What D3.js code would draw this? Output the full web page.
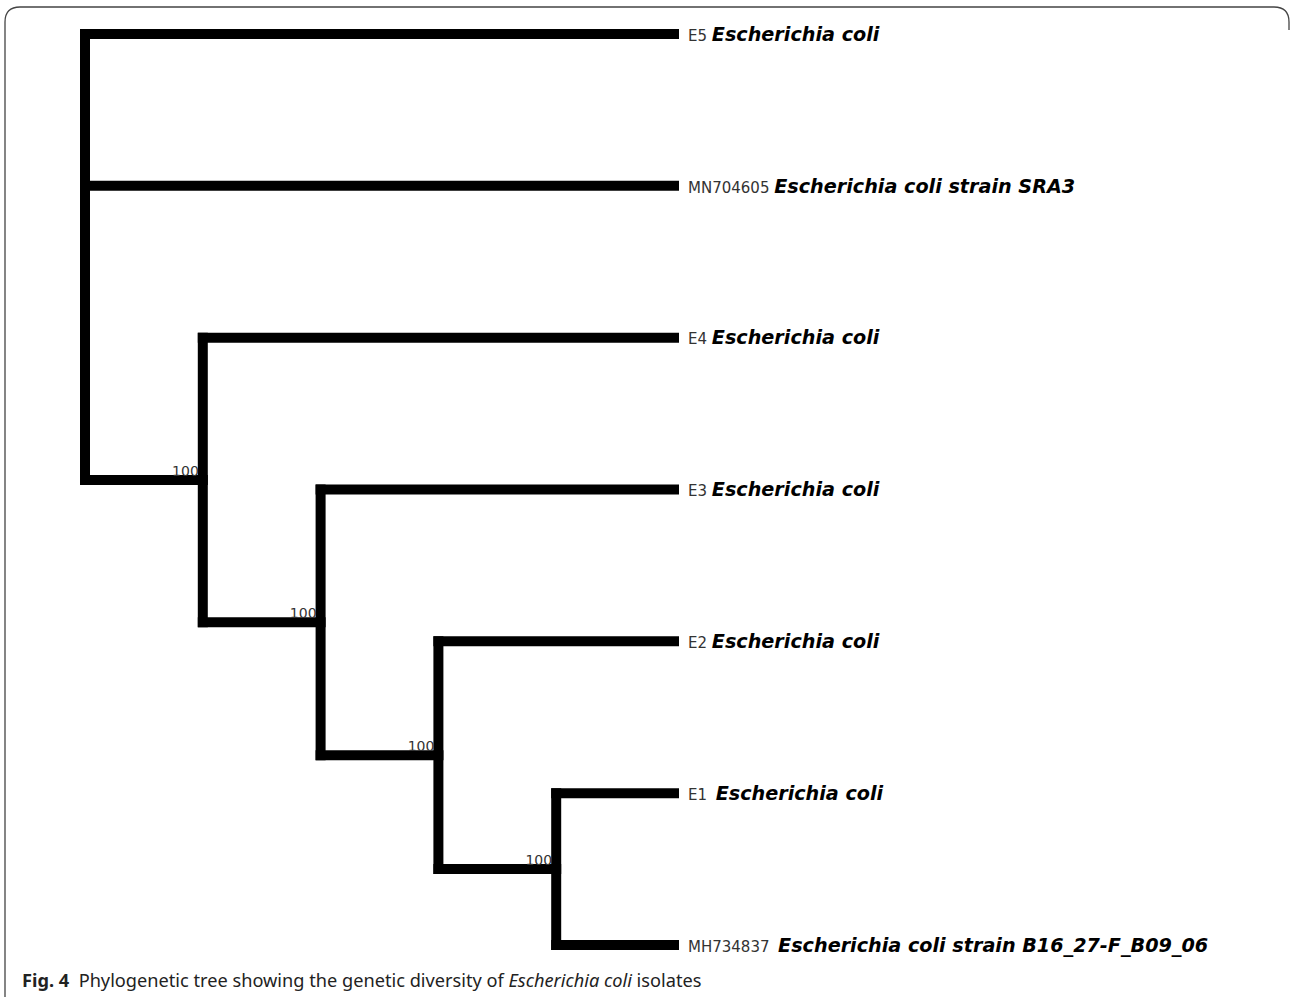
<!DOCTYPE html>
<html>
<head>
<meta charset="utf-8">
<script src="https://cdn.jsdelivr.net/npm/d3@7"></script>
<style>
  body { margin: 0; background: #fff; }
  svg { display: block; }
</style>
</head>
<body>
<div id="tree-holder"></div>
<script>
// Tree topology (parent list), support values and tip labels
let nodeIds   = ['root', 'E5', 'MN704605', 'n1', 'E4', 'n2', 'E3', 'n3', 'E2', 'n4', 'E1', 'MH734837'];
let parentIds = ['', 'root', 'root', 'root', 'n1', 'n1', 'n2', 'n2', 'n3', 'n3', 'n4', 'n4'];
let supportValues = [null, null, null, 100, null, 100, null, 100, null, 100, null, null];
let leafOrder = ['E5', 'MN704605', 'E4', 'E3', 'E2', 'E1', 'MH734837'];
let leafNames = [
	'Escherichia coli',
	'Escherichia coli strain SRA3',
	'Escherichia coli',
	'Escherichia coli',
	'Escherichia coli',
	'\u2009Escherichia coli',
	'\u2009Escherichia coli strain B16_27-F_B09_06'
];

let width = 1290;
let height = 997;

let svg = d3.select('#tree-holder')
	.append('svg')
	.attr('width', width)
	.attr('height', height);

// figure frame (rounded top corners, open at bottom)
svg.append('path')
	.attr('d', 'M5,997 V22 Q5,7 20,7 H1274 Q1289,7 1289,22 V30')
	.attr('fill', 'none')
	.attr('stroke', '#444')
	.attr('stroke-width', 1.3);

let rows = nodeIds.map(function(id, i){
	return {id: id, parent: parentIds[i], support: supportValues[i]};
});
let root = d3.stratify()
	.id(function(d){ return d.id; })
	.parentId(function(d){ return d.parent || null; })(rows);

let xScale = d3.scaleLinear().domain([0, root.height]).range([85, 674]);
let yScale = d3.scalePoint().domain(leafOrder).range([34, 945]);

// leaves aligned at the right, internal nodes by depth
root.eachAfter(function(node){
	if(!node.children){
		node.px = xScale(root.height);
		node.py = yScale(node.id);
	}else{
		node.px = xScale(node.depth);
		node.py = (node.children[0].py + node.children[node.children.length - 1].py) / 2;
	}
});

let branches = svg.append('g').attr('id', 'branches');

// horizontal branches
branches.selectAll('path.h')
	.data(root.descendants().filter(function(d){ return d.parent; }))
	.enter()
	.append('path')
	.attr('class', 'h')
	.attr('d', function(d){
		return 'M' + d.parent.px + ',' + d.py + 'H' + d.px;
	})
	.attr('stroke', '#000')
	.attr('stroke-width', 10)
	.attr('stroke-linecap', 'square')
	.attr('fill', 'none');

// vertical connectors
branches.selectAll('path.v')
	.data(root.descendants().filter(function(d){ return d.children; }))
	.enter()
	.append('path')
	.attr('class', 'v')
	.attr('d', function(d){
		let first = d.children[0];
		let last = d.children[d.children.length - 1];
		return 'M' + d.px + ',' + first.py + 'V' + last.py;
	})
	.attr('stroke', '#000')
	.attr('stroke-width', 10)
	.attr('stroke-linecap', 'square')
	.attr('fill', 'none');

// bootstrap support
svg.append('g').attr('id', 'support')
	.selectAll('text')
	.data(root.descendants().filter(function(d){ return d.data.support; }))
	.enter()
	.append('text')
	.text(function(d){ return d.data.support; })
	.attr('x', function(d){ return d.px - 4; })
	.attr('y', function(d){ return d.py - 4; })
	.attr('text-anchor', 'end')
	.attr('font-family', 'DejaVu Sans')
	.attr('font-size', 14)
	.attr('fill', '#333');

// tip labels
let tips = svg.append('g').attr('id', 'tips')
	.selectAll('text')
	.data(root.leaves())
	.enter()
	.append('text')
	.attr('x', function(d){ return d.px + 14; })
	.attr('y', function(d){ return d.py + 1; })
	.attr('dy', '0.36em')
	.attr('xml:space', 'preserve');

tips.append('tspan')
	.text(function(d){ return d.id + ' '; })
	.attr('font-family', 'DejaVu Sans')
	.attr('font-size', 15)
	.attr('fill', '#333');

tips.append('tspan')
	.text(function(d){ return leafNames[leafOrder.indexOf(d.id)]; })
	.attr('font-family', 'DejaVu Sans')
	.attr('font-weight', 'bold')
	.attr('font-style', 'italic')
	.attr('font-size', 19.2)
	.attr('fill', '#000');

// caption
let caption = svg.append('text')
	.attr('x', 22)
	.attr('y', 987)
	.attr('font-family', 'Noto Sans')
	.attr('font-size', 18.2)
	.attr('fill', '#222')
	.attr('xml:space', 'preserve');
caption.append('tspan').text('Fig. 4').attr('font-weight', 'bold');
caption.append('tspan').text('  Phylogenetic tree showing the genetic diversity of ');
caption.append('tspan').text('Escherichia coli').attr('font-style', 'italic');
caption.append('tspan').text(' isolates');
</script>
</body>
</html>
